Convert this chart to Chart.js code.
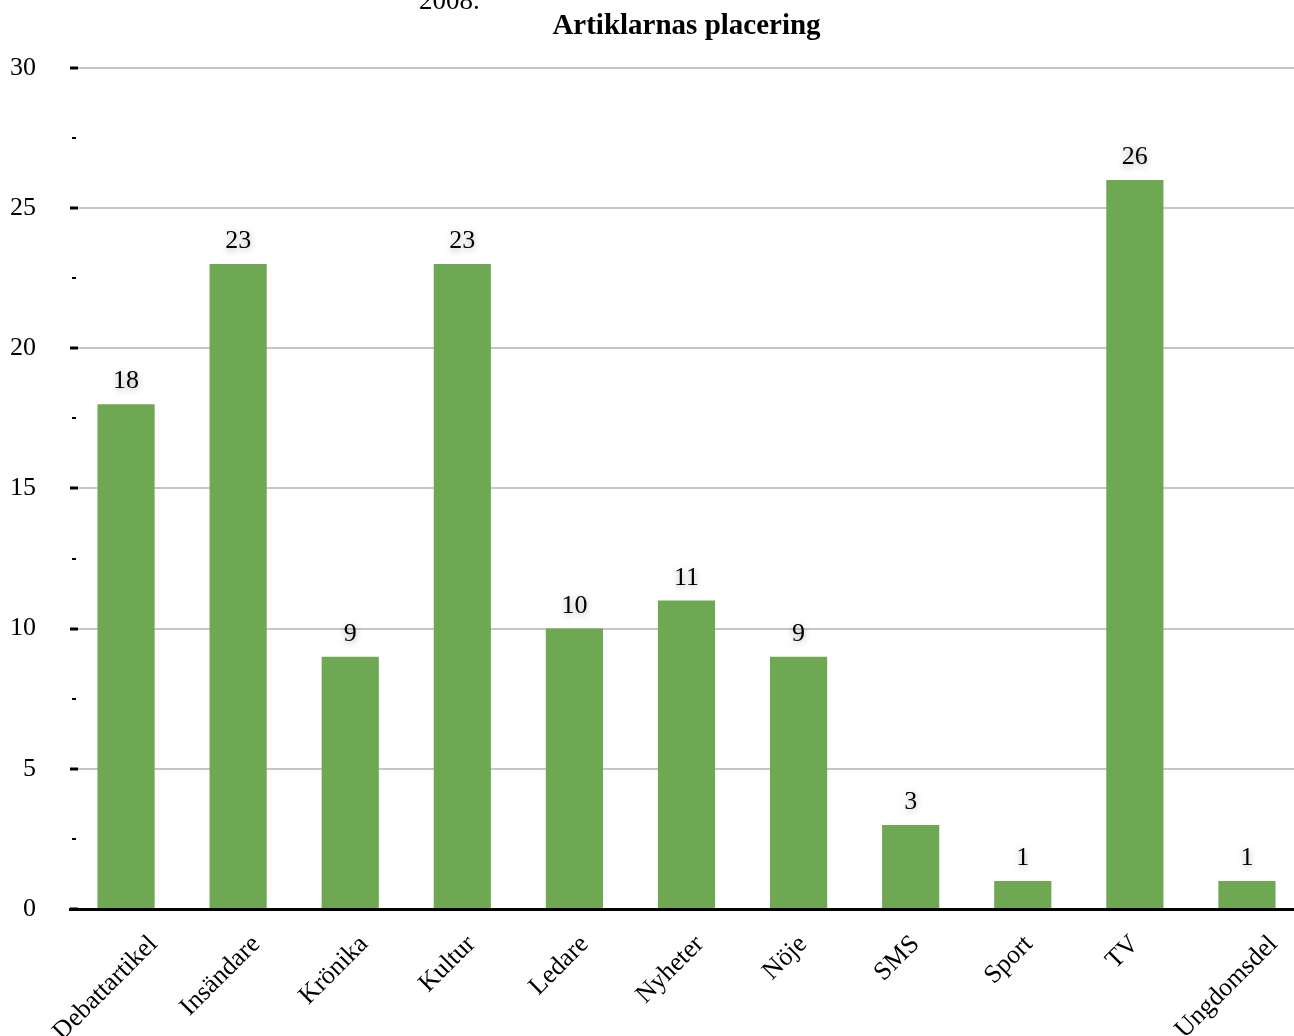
<!DOCTYPE html>
<html>
<head>
<meta charset="utf-8">
<script src="https://cdn.jsdelivr.net/npm/chart.js@4.4.1/dist/chart.umd.min.js"></script>
<style>
  html, body { margin: 0; padding: 0; background: #fff; overflow: hidden; }
  #wrap { width: 1303px; height: 1036px; }
</style>
</head>
<body>
<div id="wrap"><canvas id="placeringChart"></canvas></div>
<script>
// Data
const categories = ['Debattartikel', 'Insändare', 'Krönika', 'Kultur', 'Ledare', 'Nyheter', 'Nöje', 'SMS', 'Sport', 'TV', 'Ungdomsdel'];
const antal = [18, 23, 9, 23, 10, 11, 9, 3, 1, 26, 1];
const yMin = 0;
const yMax = 30;
const yStep = 2.5;

const serif = '"Liberation Serif", "DejaVu Serif", serif';

// draws rotated category labels, value labels, tick marks and the cut text at the top
const extras = {
  id: 'extras',
  afterDraw(chart) {
    const ctx = chart.ctx;
    const x = chart.scales.x;
    const y = chart.scales.y;
    const area = chart.chartArea;

    ctx.save();
    // tick marks on the left
    ctx.fillStyle = '#000';
    y.ticks.forEach(t => {
      const py = Math.round(y.getPixelForValue(t.value));
      if (t.value % 5 === 0) {
        ctx.fillRect(area.left, py - 1.5, 8, 3);
      } else {
        ctx.fillRect(area.left + 2, py - 1, 4, 2);
      }
    });

    // value labels with a soft shadow
    ctx.font = '26px ' + serif;
    ctx.textAlign = 'center';
    ctx.textBaseline = 'alphabetic';
    chart.getDatasetMeta(0).data.forEach((bar, i) => {
      ctx.shadowColor = 'rgba(0,0,0,0.35)';
      ctx.shadowBlur = 7;
      ctx.shadowOffsetY = 2;
      ctx.fillStyle = '#000';
      ctx.fillText(antal[i], bar.x, bar.y - 16);
    });
    ctx.shadowColor = 'transparent';
    ctx.shadowBlur = 0;
    ctx.shadowOffsetY = 0;

    // category labels, rotated 45 degrees
    ctx.font = '26px ' + serif;
    ctx.textAlign = 'right';
    ctx.textBaseline = 'middle';
    const h = 26;
    categories.forEach((c, i) => {
      const L = ctx.measureText(c).width;
      const cx = x.getPixelForValue(i);
      const px = cx + 0.27 * L - 0.354 * h;
      const py = 931 + 0.354 * h;
      ctx.save();
      ctx.translate(px, py);
      ctx.rotate(-Math.PI / 4);
      ctx.fillText(c, 0, 0);
      ctx.restore();
    });

    // text cut off at the top of the picture
    ctx.font = '27px ' + serif;
    ctx.textAlign = 'left';
    ctx.textBaseline = 'alphabetic';
    ctx.fillText('2008.', 419, 9);
    ctx.restore();
  }
};

const ctx = document.getElementById('placeringChart').getContext('2d');
const placeringChart = new Chart(ctx, {
  type: 'bar',
  data: {
    labels: categories,
    datasets: [
      {
        label: 'Antal',
        data: antal,
        backgroundColor: '#6ea853',
        borderWidth: 0,
        barPercentage: 0.51,
        categoryPercentage: 1.0,
      },
    ],
  },
  options: {
    responsive: true,
    maintainAspectRatio: false,
    animation: false,
    layout: { padding: 0 },
    scales: {
      x: {
        grid: { display: false, drawTicks: false },
        border: { display: true, color: '#000', width: 3, z: 1 },
        ticks: { display: false },
        afterFit(scale) { scale.height = 127; },
      },
      y: {
        min: yMin,
        max: yMax,
        grid: {
          drawTicks: false,
          lineWidth: 2,
          color: c => (c.tick && c.tick.value % 5 === 0 && c.tick.value !== 0) ? '#c6c6c6' : 'rgba(0,0,0,0)',
        },
        border: { display: false },
        ticks: {
          stepSize: yStep,
          padding: 34,
          color: '#000',
          font: { family: serif, size: 26 },
          callback: v => (v % 5 === 0 ? v : ''),
        },
        afterFit(scale) { scale.width = 70; },
      },
    },
    plugins: {
      legend: { display: false },
      tooltip: { enabled: false },
      title: {
        display: true,
        text: 'Artiklarnas placering',
        fullSize: false,
        color: '#000',
        font: { family: serif, size: 29, weight: 'bold', lineHeight: 1.2 },
        padding: { top: 9, bottom: 24 },
      },
    },
  },
  plugins: [extras],
});
</script>
</body>
</html>
